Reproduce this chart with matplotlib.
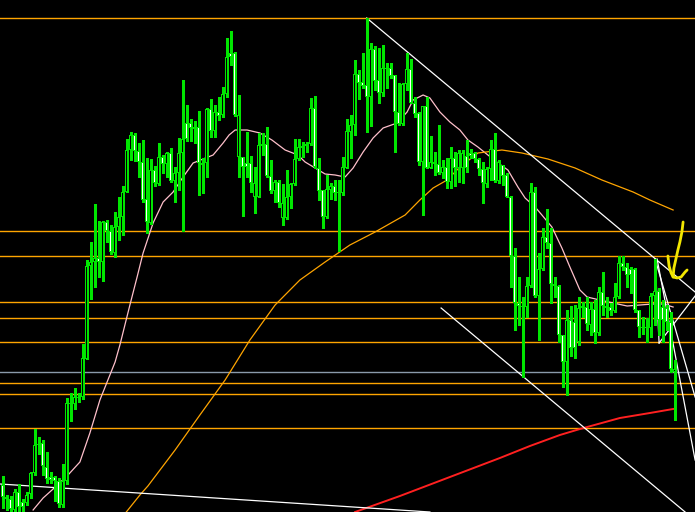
import numpy as np
import matplotlib
matplotlib.use("Agg")
import matplotlib.pyplot as plt

# --- OHLC (price units) ---
opens = [27, 15, 13, 2, 20, 10, 9, 18, 39, 67,
         69, 45, 35, 35, 31, 7, 31, 108, 108, 114,
         115, 153, 246, 250, 254, 250, 290, 281, 259, 285,
         295, 320, 362, 377, 361, 350, 313, 289, 342, 328,
         355, 348, 359, 331, 339, 359, 389, 389, 385, 385,
         349, 349, 403, 381, 400, 397, 418, 459, 459, 355,
         355, 349, 349, 315, 315, 368, 368, 336, 321, 330,
         294, 294, 315, 328, 353, 366, 366, 368, 404, 344,
         322, 295, 322, 326, 320, 319, 344, 380, 387, 438,
         430, 427, 415, 463, 432, 419, 443, 444, 437, 400,
         388, 428, 443, 409, 399, 350, 406, 344, 350, 348,
         339, 345, 330, 354, 344, 344, 356, 359, 359, 353,
         343, 328, 343, 363, 331, 347, 337, 315, 256, 209,
         205, 205, 226, 320, 216, 243, 275, 269, 228, 226,
         177, 150, 192, 190, 170, 206, 205, 187, 203, 179,
         220, 206, 205, 201, 215, 249, 245, 243, 243, 202,
         185, 185, 184, 216, 221, 205, 204, 190, 140]
highs = [36, 17, 16, 23, 28, 13, 20, 40, 83, 75,
         72, 60, 40, 36, 34, 48, 114, 119, 124, 119,
         168, 252, 270, 308, 291, 291, 292, 287, 300, 315,
         326, 373, 380, 379, 369, 372, 354, 353, 346, 369,
         357, 360, 364, 345, 374, 432, 407, 393, 391, 401,
         354, 404, 413, 407, 415, 425, 474, 481, 460, 417,
         355, 380, 356, 345, 379, 379, 385, 352, 332, 332,
         328, 342, 329, 373, 373, 370, 370, 414, 416, 354,
         322, 337, 329, 332, 332, 355, 393, 397, 452, 442,
         459, 494, 469, 466, 464, 467, 449, 449, 437, 429,
         429, 459, 453, 415, 400, 406, 415, 376, 360, 387,
         352, 354, 365, 360, 362, 362, 372, 363, 360, 354,
         350, 345, 372, 379, 352, 347, 339, 316, 264, 235,
         215, 235, 329, 325, 259, 284, 303, 284, 235, 227,
         177, 202, 206, 207, 215, 210, 215, 210, 212, 225,
         240, 215, 209, 229, 256, 256, 249, 245, 244, 202,
         195, 194, 219, 253, 224, 212, 207, 200, 152]
lows = [4, 2, 1, 1, 1, 1, 7, 14, 37, 58,
        37, 29, 29, 11, 5, 5, 28, 91, 103, 110,
        113, 153, 213, 225, 235, 231, 270, 258, 255, 272,
        277, 320, 352, 351, 335, 310, 279, 288, 326, 327,
        339, 335, 330, 310, 322, 281, 371, 371, 369, 317,
        319, 335, 375, 375, 392, 395, 415, 447, 396, 335,
        296, 335, 320, 299, 315, 357, 335, 319, 310, 305,
        287, 293, 304, 327, 352, 355, 360, 367, 344, 312,
        284, 294, 313, 312, 261, 317, 344, 354, 377, 413,
        424, 380, 386, 422, 409, 416, 424, 434, 360, 387,
        387, 422, 409, 395, 347, 297, 344, 344, 337, 338,
        334, 324, 324, 326, 330, 329, 340, 354, 350, 337,
        309, 325, 332, 330, 329, 327, 315, 225, 182, 187,
        135, 195, 225, 215, 172, 242, 264, 209, 215, 170,
        125, 117, 156, 154, 167, 195, 182, 177, 169, 177,
        197, 195, 197, 200, 214, 242, 225, 219, 200, 175,
        178, 170, 175, 187, 177, 170, 182, 140, 92]
closes = [15, 13, 3, 20, 5, 5, 17, 39, 67, 68,
          46, 33, 32, 31, 8, 31, 109, 109, 115, 115,
          154, 246, 250, 254, 250, 290, 281, 260, 285, 295,
          320, 362, 377, 361, 350, 312, 290, 342, 329, 355,
          348, 359, 331, 339, 359, 373, 373, 384, 383, 349,
          347, 403, 381, 400, 396, 418, 455, 455, 397, 397,
          345, 345, 329, 329, 367, 366, 336, 321, 330, 309,
          309, 315, 328, 353, 365, 364, 368, 404, 345, 321,
          295, 323, 326, 319, 319, 345, 381, 387, 438, 429,
          426, 415, 463, 431, 419, 444, 444, 436, 400, 388,
          428, 443, 409, 398, 350, 406, 344, 350, 348, 339,
          345, 330, 354, 344, 359, 359, 344, 356, 353, 343,
          329, 343, 363, 331, 350, 336, 315, 256, 209, 206,
          206, 226, 320, 216, 243, 275, 269, 228, 226, 177,
          150, 192, 164, 164, 204, 204, 188, 203, 179, 220,
          206, 204, 201, 215, 249, 245, 237, 237, 202, 185,
          184, 184, 216, 221, 192, 192, 190, 143, 143]

# moving averages (bar index, price)
ma_fast_x = [7.6, 10.1, 12.6, 16.1, 19.3, 21.8, 24.3, 26.1, 28.1, 29.3, 31.8, 33.6,
             35.1, 37.6, 40.1, 42.6, 45.1, 47.6, 50.1, 52.6, 55.1, 56.6, 58.1, 61.1,
             64.3, 67.3, 70.6, 73.8, 75.6, 78.1, 80.6, 83.1, 85.6, 87.6, 90.1, 92.6,
             95.1, 98.6, 101.1, 102.6, 105.1, 106.8, 109.3, 111.8, 114.3, 116.3, 118.8,
             121.3, 123.8, 126.3, 128.8, 130.6, 133.1, 134.8, 137.3, 139.8, 141.8,
             144.3, 146.1, 149.3, 152.6, 156.1, 159.3, 162.6, 165.1, 167.6]
ma_fast = [2, 14, 23, 36, 50, 79, 112, 130, 150, 167, 207, 235,
           259, 289, 310, 320, 335, 349, 353, 357, 369, 377, 382, 382,
           379, 372, 362, 357, 350, 344, 338, 337, 335, 344, 360, 374,
           384, 389, 400, 412, 417, 414, 400, 390, 382, 372, 365,
           357, 349, 342, 325, 314, 305, 297, 285, 264, 245,
           222, 215, 212, 209, 206, 207, 208, 208, 205]
ma_mid_x = [30.5, 34.3, 36.3, 43.1, 49.3, 55.6, 61.8, 68.1, 74.3, 80.6, 86.8, 93.1,
            100.6, 104.3, 107.6, 111.1, 114.3, 118.8, 124.8, 129.8, 136.3, 143.1,
            149.8, 157.6, 161.8, 167.6]
ma_mid = [-2, 17, 26, 62, 97, 132, 172, 207, 232, 250, 267, 280,
          297, 312, 324, 332, 345, 359, 362, 359, 353, 344,
          332, 320, 312, 302]
ma_slow_x = [88.1, 99.3, 111.8, 124.3, 131.8, 139.3, 144.3, 154.3, 161.8, 167.6]
ma_slow = [0, 16, 35, 54, 66, 77, 83, 94, 99, 103]

# horizontal levels
levels_orange = [494, 281, 256, 210, 194, 170, 129, 118, 84]
levels_gray = [140]

# trend lines: (x0, y0, x1, y1)
trendlines = [
    (91, 494, 173.1, 220),
    (-0.7, 28, 106.8, 0),
    (109.6, 204, 170.6, 0),
    (163.1, 253, 173.1, 115),
    (163.6, 253, 173.1, 52),
    (163.1, 253, 164.1, 169),
    (164.1, 169, 173.1, 216),
]

# hand-drawn yellow mark
mark_x = [170.1, 169.8, 169.3, 168.8, 168.3, 167.8, 167.6]
mark_y = [290, 280, 270, 262, 253, 244, 235]
hook_x = [166.3, 166.6, 167.1, 167.6, 168.6, 169.6, 170.6, 171.1]
hook_y = [256, 246, 239, 235, 234, 235, 240, 242]

green = "#00e600"

fig = plt.figure(figsize=(6.95, 5.12), dpi=100, facecolor="black")
ax = fig.add_axes([0, 0, 1, 1], facecolor="black")

for lv in levels_orange:
    ax.axhline(lv, color="#ffa500", lw=1.0, zorder=1)
for lv in levels_gray:
    ax.axhline(lv, color="#8a9aab", lw=1.0, zorder=1)

ax.plot(ma_fast_x, ma_fast, color="#ffc0cb", lw=0.9, zorder=2)
ax.plot(ma_mid_x, ma_mid, color="#ffa500", lw=0.9, zorder=2)
ax.plot(ma_slow_x, ma_slow, color="#ff2020", lw=1.4, zorder=2)

for x0, y0, x1, y1 in trendlines:
    ax.plot([x0, x1], [y0, y1], color="white", lw=0.9, zorder=2)

o = np.array(opens)
h = np.array(highs)
l = np.array(lows)
c = np.array(closes)
idx = np.arange(len(o))

# wicks, then a green body frame with a 1-px fill column inside (MT4 look)
ax.vlines(idx, l, h, color=green, lw=0.75, zorder=3, antialiased=False)
body_lo = np.minimum(o, c)
body_h = np.maximum(np.abs(c - o), 1)
ax.bar(idx, body_h, bottom=body_lo, width=0.75, color=green,
       linewidth=0, zorder=4, antialiased=False)
fill = np.where(c > o, "black", "white")
inner = np.clip(body_h - 2, 0, None)
ax.bar(idx, inner, bottom=body_lo + 1, width=0.25, color=fill,
       linewidth=0, zorder=5, antialiased=False)

ax.plot(mark_x, mark_y, color="#f2e600", lw=2.0, solid_capstyle="round", zorder=6)
ax.plot(hook_x, hook_y, color="#f2e600", lw=2.0, solid_capstyle="round", zorder=6)

ax.set_xlim(-0.675, -0.675 + 695 / 4)
ax.set_ylim(0, 512)
ax.set_xticks([])
ax.set_yticks([])
for s in ax.spines.values():
    s.set_visible(False)

fig.savefig("out.png", dpi=100, facecolor="black")
